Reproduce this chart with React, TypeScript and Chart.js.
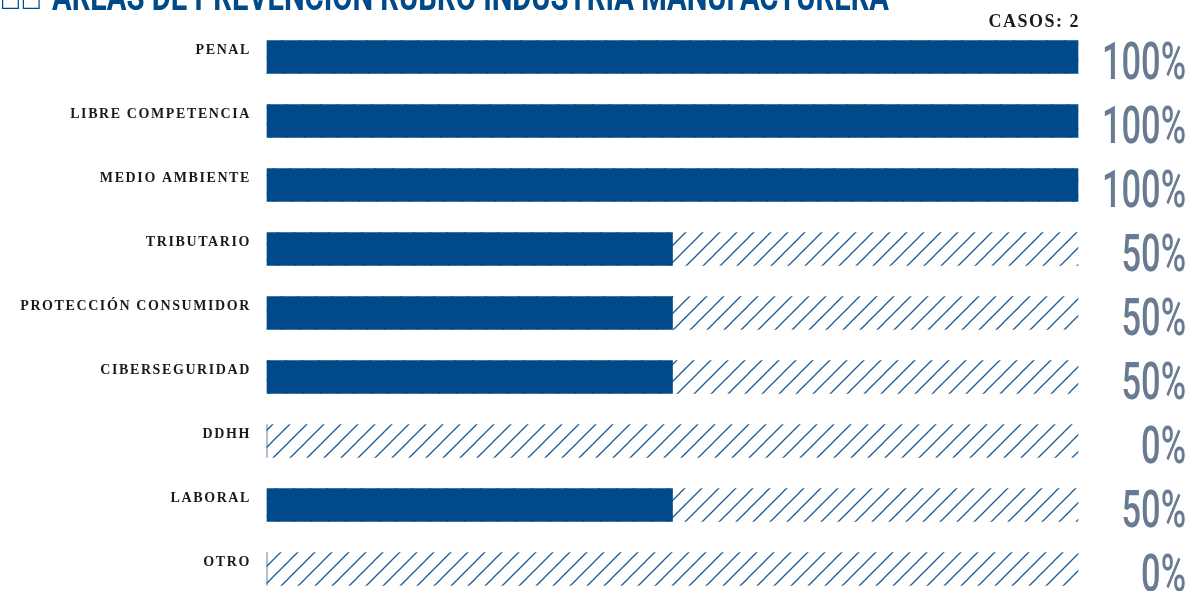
import React, { useEffect, useRef } from "react";
import { Chart, registerables } from "chart.js";

Chart.register(...registerables);

const categories = [
  "PENAL",
  "LIBRE COMPETENCIA",
  "MEDIO AMBIENTE",
  "TRIBUTARIO",
  "PROTECCIÓN CONSUMIDOR",
  "CIBERSEGURIDAD",
  "DDHH",
  "LABORAL",
  "OTRO",
];
const percentValues = [100, 100, 100, 50, 50, 50, 0, 50, 0];
const backgroundValues = [100, 100, 100, 100, 100, 100, 100, 100, 100];
const titleText = "ÁREAS DE PREVENCIÓN RUBRO INDUSTRIA MANUFACTURERA";
const titleIcon = "□□";
const casesLabel = "CASOS: 2";

const BLUE = "#004a8a";
const HATCH = "#1d5a94";
const PCT = "#687b92";

function makeHatch(): CanvasPattern | string {
  const w = 17;
  const h = 17;
  const c = document.createElement("canvas");
  c.width = w;
  c.height = h;
  const g = c.getContext("2d");
  if (!g) return HATCH;
  g.fillStyle = "#ffffff";
  g.fillRect(0, 0, w, h);
  g.strokeStyle = HATCH;
  g.lineWidth = 1.25;
  for (const k of [-w, 0, w]) {
    g.beginPath();
    g.moveTo(k - w, 2 * h);
    g.lineTo(k + 2 * w, -h);
    g.stroke();
  }
  const p = g.createPattern(c, "repeat");
  return p || HATCH;
}

const overlayPlugin = {
  id: "overlay",
  beforeDraw(chart: any) {
    chart.ctx.letterSpacing = "1.6px";
  },
  beforeDatasetsDraw(chart: any) {
    chart.ctx.letterSpacing = "0px";
  },
  afterDraw(chart: any) {
    const ctx = chart.ctx as CanvasRenderingContext2D;
    const yScale = chart.scales.y;
    const data = chart.data.datasets[0].data as number[];

    // percentage labels
    ctx.save();
    (ctx as any).letterSpacing = "0px";
    ctx.font = "500 52px Roboto";
    const ref = ctx.measureText("100%").width;
    const sx = 84 / ref;
    ctx.fillStyle = PCT;
    ctx.textAlign = "right";
    ctx.textBaseline = "alphabetic";
    data.forEach((v, i) => {
      const y = yScale.getPixelForValue(i) + 22;
      ctx.save();
      ctx.translate(1186, y);
      ctx.scale(sx, 1);
      ctx.fillText(`${v}%`, 0, 0);
      ctx.restore();
    });
    ctx.restore();

    // cases label
    ctx.save();
    (ctx as any).letterSpacing = "1.5px";
    ctx.font = "bold 18px 'Liberation Serif'";
    ctx.fillStyle = "#1a1a1a";
    ctx.textAlign = "right";
    ctx.textBaseline = "alphabetic";
    ctx.fillText(casesLabel, 1080, 27);
    ctx.restore();

    // title (cut at top)
    ctx.save();
    (ctx as any).letterSpacing = "0px";
    ctx.font = "700 38px Roboto";
    const tw = ctx.measureText(titleText).width;
    const tsx = 837 / tw;
    ctx.fillStyle = BLUE;
    ctx.textAlign = "left";
    ctx.textBaseline = "alphabetic";
    ctx.translate(52, 10);
    ctx.scale(tsx, 1);
    ctx.fillText(titleText, 0, 0);
    ctx.restore();

    ctx.save();
    ctx.font = "22px 'DejaVu Sans'";
    ctx.fillStyle = BLUE;
    ctx.textAlign = "left";
    ctx.fillText(titleIcon, 0, 6);
    ctx.restore();
  },
};

export default function App() {
  const ref = useRef<HTMLCanvasElement | null>(null);
  useEffect(() => {
    const canvas = ref.current;
    if (!canvas) return;
    const hatch = makeHatch();
    const chart = new Chart(canvas, {
      type: "bar",
      data: {
        labels: categories,
        datasets: [
          {
            data: percentValues,
            backgroundColor: BLUE,
            barThickness: 33,
            grouped: false,
            borderWidth: 0,
            clip: false,
          } as any,
          {
            data: backgroundValues,
            backgroundColor: hatch as any,
            barThickness: 33,
            grouped: false,
            borderWidth: 0,
            clip: false,
          } as any,
        ],
      },
      options: {
        indexAxis: "y",
        responsive: false,
        animation: false,
        layout: { padding: { left: 0, right: 112, top: 57, bottom: 22 } },
        plugins: { legend: { display: false }, tooltip: { enabled: false } },
        scales: {
          x: { display: false, min: 0, max: 100 },
          y: {
            offset: false,
            grid: { display: false, drawTicks: false },
            border: { display: false },
            ticks: {
              padding: 16,
              labelOffset: -7,
              color: "#1a1a1a",
              font: { family: "'Liberation Serif', serif", weight: "bold", size: 14 },
            },
            afterFit(s: any) {
              s.width = 267;
              s.paddingTop = 0;
              s.paddingBottom = 0;
            },
          } as any,
        },
      },
      plugins: [overlayPlugin],
    });
    return () => chart.destroy();
  }, []);
  return (
    <canvas
      ref={ref}
      width={1190}
      height={591}
      style={{ position: "absolute", left: 0, top: 0, display: "block", width: 1190, height: 591 }}
    />
  );
}
